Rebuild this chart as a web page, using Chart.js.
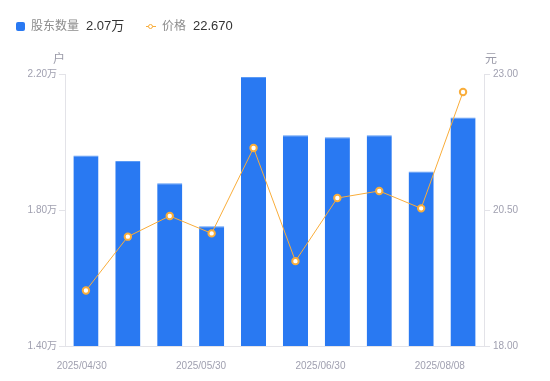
<!DOCTYPE html>
<html>
<head>
<meta charset="utf-8">
<script src="https://cdn.jsdelivr.net/npm/chart.js@4/dist/chart.umd.min.js"></script>
<style>
  html, body { margin: 0; padding: 0; background: #fff; }
  #wrap { position: relative; width: 550px; height: 381px; font-family: "Liberation Sans", "Noto Sans CJK SC", sans-serif; }
  #legend { position: absolute; left: 16px; top: 16px; white-space: nowrap; }
  #legend .item { position: absolute; top: 0; line-height: 17px; }
  #legend .name { color: #8c8c8c; font-size: 12px; }
  #legend .val { color: #333; font-size: 13px; margin-left: 7px; }
  .sq { display: inline-block; width: 9px; height: 9px; border-radius: 2px; background: #2979f2; vertical-align: -1px; margin-right: 6px; }
  .mk { display: inline-block; position: relative; width: 10px; height: 9px; margin-right: 6px; vertical-align: -1px; }
  .mk:before { content: ""; position: absolute; left: 0; right: 0; top: 4px; height: 1px; background: #f9ad3a; }
  .mk:after { content: ""; position: absolute; left: 2px; top: 1.5px; width: 3px; height: 3px; border: 1.5px solid #f9ad3a; border-radius: 50%; background: #fff; }
  .unit { position: absolute; top: 49px; font-size: 12px; color: #9a9aa8; }
  canvas { position: absolute; left: 0; top: 0; }
</style>
</head>
<body>
<div id="wrap">
  <canvas id="chartCanvas" width="550" height="381"></canvas>
  <div id="legend">
    <span class="item" style="left:0"><span class="sq"></span><span class="name">股东数量</span><span class="val">2.07万</span></span>
    <span class="item" style="left:130px"><span class="mk"></span><span class="name">价格</span><span class="val">22.670</span></span>
  </div>
  <span class="unit" style="left:53px">户</span>
  <span class="unit" style="left:485px">元</span>
</div>
<script>
// data
var dates = ["2025/04/30", "2025/05/09", "2025/05/20", "2025/05/30", "2025/06/10",
             "2025/06/20", "2025/06/30", "2025/07/10", "2025/07/20", "2025/08/08"];
var holders = [1.96, 1.944, 1.879, 1.752, 2.191, 2.02, 2.014, 2.02, 1.913, 2.072]; // 万户
var price = [19.02, 20.01, 20.39, 20.07, 21.64, 19.56, 20.72, 20.85, 20.53, 22.67];
var xTickLabels = ["2025/04/30", "2025/05/30", "2025/06/30", "2025/08/08"];
var leftTicks = [1.40, 1.80, 2.20];
var rightTicks = [18.00, 20.50, 23.00];

Chart.defaults.font.family = '"Liberation Sans", "Noto Sans CJK SC", sans-serif';
Chart.defaults.font.size = 10;
Chart.defaults.color = "#a0a0b0";

var axisColor = "#e3e3e8";

var canvas = document.getElementById("chartCanvas");
var myChart = new Chart(canvas, {
    type: "bar",
    data: {
        labels: dates,
        datasets: [{
            type: "line",
            label: "价格",
            data: price,
            yAxisID: "y1",
            borderColor: "#f9ad3a",
            borderWidth: 1,
            pointRadius: 3.2,
            pointBorderWidth: 2,
            pointBackgroundColor: "#fff",
            pointBorderColor: "#f9ad3a",
            tension: 0,
            order: 0
        }, {
            type: "bar",
            label: "股东数量",
            data: holders,
            yAxisID: "y",
            backgroundColor: "#2979f2",
            borderColor: "#5b9af5",
            borderWidth: { top: 1, left: 0, right: 0, bottom: 0 },
            categoryPercentage: 1,
            barPercentage: 0.6,
            order: 1
        }]
    },
    options: {
        responsive: false,
        animation: false,
        maintainAspectRatio: false,
        layout: { padding: { left: 0, right: 0, top: 74, bottom: 0 } },
        plugins: {
            legend: { display: false },
            tooltip: { enabled: false }
        },
        scales: {
            x: {
                type: "category",
                position: "bottom",
                grid: { display: false },
                border: { display: true, color: axisColor },
                ticks: { display: false },
                afterFit: function (s) { s.height = 0; }
            },
            // label row for the four dates shown under the bars
            x2: {
                type: "linear",
                position: "bottom",
                offset: false,
                min: -0.14,
                max: 3.37,
                grid: { display: false, offset: false },
                border: { display: false },
                ticks: {
                    padding: 6,
                    maxRotation: 0,
                    autoSkip: false,
                    callback: function (v) { return xTickLabels[v]; }
                },
                afterBuildTicks: function (s) {
                    s.ticks = xTickLabels.map(function (t, i) { return { value: i }; });
                },
                afterFit: function (s) { s.height = 35; }
            },
            y: {
                position: "left",
                min: 1.4,
                max: 2.2,
                grid: { drawOnChartArea: false, drawTicks: true, tickLength: 6, color: axisColor },
                border: { display: true, color: axisColor },
                ticks: {
                    padding: 2,
                    callback: function (v) { return v.toFixed(2) + "万"; }
                },
                afterBuildTicks: function (s) {
                    s.ticks = leftTicks.map(function (v) { return { value: v }; });
                },
                afterFit: function (s) { s.width = 65; }
            },
            y1: {
                position: "right",
                min: 18,
                max: 23,
                grid: { drawOnChartArea: false, drawTicks: true, tickLength: 6, color: axisColor },
                border: { display: true, color: axisColor },
                ticks: {
                    padding: 3,
                    callback: function (v) { return v.toFixed(2); }
                },
                afterBuildTicks: function (s) {
                    s.ticks = rightTicks.map(function (v) { return { value: v }; });
                },
                afterFit: function (s) { s.width = 66; }
            }
        }
    }
});
</script>
</body>
</html>
